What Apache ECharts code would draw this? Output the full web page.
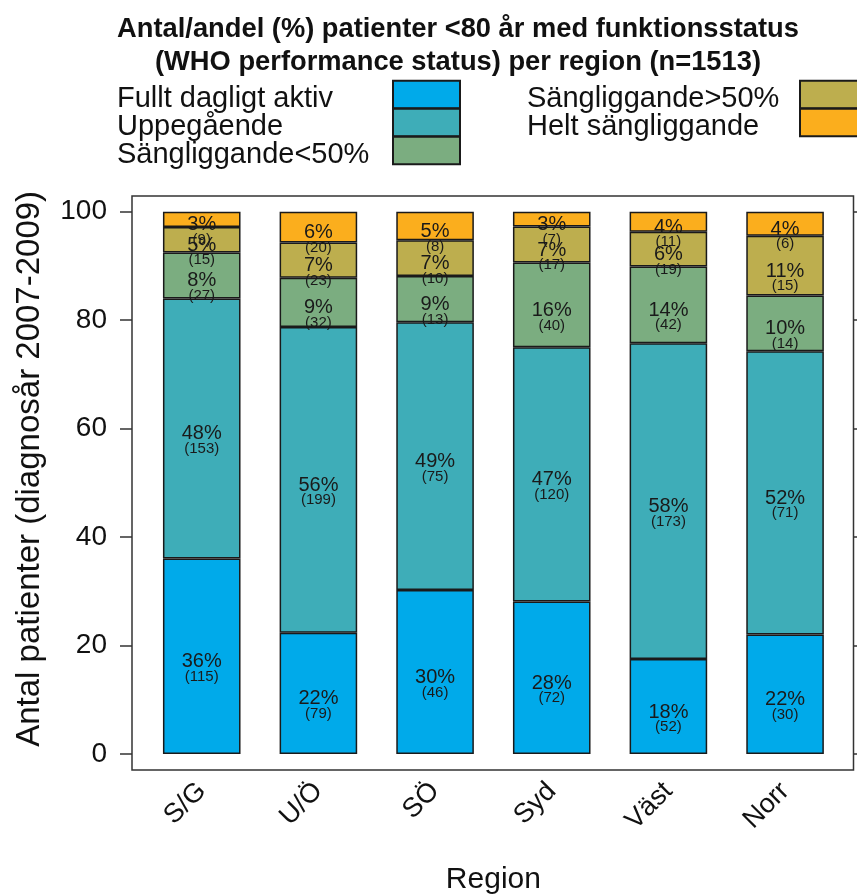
<!DOCTYPE html>
<html>
<head>
<meta charset="utf-8">
<script src="https://cdn.jsdelivr.net/npm/echarts@6/dist/echarts.min.js"></script>
<style>html,body{margin:0;padding:0;background:#fff}#c{width:857px;height:894px}</style>
</head>
<body>
<div id="c"></div>
<script>
var regions = ['S/G', 'U/Ö', 'SÖ', 'Syd', 'Väst', 'Norr'];
var statusNames = ['Fullt dagligt aktiv', 'Uppegående', 'Sängliggande<50%', 'Sängliggande>50%', 'Helt sängliggande'];
var fulltAktiv   = [115, 79, 46, 72, 52, 30];
var uppegaende   = [153, 199, 75, 120, 173, 71];
var sangUnder50  = [27, 32, 13, 40, 42, 14];
var sangOver50   = [15, 23, 10, 17, 19, 15];
var heltSang     = [9, 20, 8, 7, 11, 6];
var yTicks = [0, 20, 40, 60, 80, 100];
var colors = ['#00AAEA', '#3EADB8', '#7BAD80', '#BDAE4E', '#FBAE1D'];

var countsList = [fulltAktiv, uppegaende, sangUnder50, sangOver50, heltSang];
var totals = regions.map(function (r, i) {
  return countsList.reduce(function (s, arr) { return s + arr[i]; }, 0);
});
var FONT = 'Liberation Sans, Arial, sans-serif';

var series = countsList.map(function (arr, k) {
  return {
    name: statusNames[k],
    type: 'bar',
    stack: 'all',
    xAxisIndex: 0,
    yAxisIndex: 0,
    barWidth: '66.5%',
    itemStyle: { color: colors[k], borderColor: '#1a1a1a', borderWidth: 1.5 },
    emphasis: { disabled: true },
    label: {
      show: true,
      position: 'inside',
      offset: [0, 13],
      formatter: function (p) {
        var c = arr[p.dataIndex];
        return '{a|' + Math.round(100 * c / totals[p.dataIndex]) + '%}\n{b|(' + c + ')}';
      },
      rich: {
        a: { fontSize: 20, lineHeight: 15, color: '#1a1a1a', fontFamily: FONT },
        b: { fontSize: 15, lineHeight: 15, color: '#1a1a1a', fontFamily: FONT }
      }
    },
    data: arr.map(function (c, i) { return 100 * c / totals[i]; })
  };
});

function legendFmt(name) { return '{n|' + name + '}'; }

function legendOpt(names, left, w) {
  return {
    data: names,
    orient: 'vertical', left: left, top: 76, align: 'right',
    padding: 0,
    icon: 'rect',
    itemWidth: 67, itemHeight: 27.7, itemGap: -9,
    selectedMode: false,
    formatter: legendFmt,
    textStyle: { fontSize: 29, lineHeight: 24, color: '#111', fontFamily: FONT,
      rich: { n: { width: w, align: 'left', fontSize: 29, lineHeight: 24, color: '#111', fontFamily: FONT, padding: [8, 0, 0, 0] } } }
  };
}

var chart = echarts.init(document.getElementById('c'), null, { renderer: 'canvas' });
chart.setOption({
  animation: false,
  textStyle: { fontFamily: FONT },
  title: {
    text: 'Antal/andel (%) patienter <80 år med funktionsstatus\n(WHO performance status) per region (n=1513)',
    left: 453,
    textAlign: 'center',
    top: 8,
    textStyle: { fontSize: 27.3, fontWeight: 'bold', lineHeight: 33, color: '#111', fontFamily: FONT }
  },
  legend: [
    legendOpt(statusNames.slice(0, 3), 117, 271),
    legendOpt(statusNames.slice(3), 527, 268)
  ],
  grid: [
    { left: 143.4, right: 13.6, top: 211.7, bottom: 140, containLabel: false, outerBoundsMode: 'none' },
    { left: 132, right: 3.5, top: 196, bottom: 124, show: true, borderColor: '#333', borderWidth: 1.5,
      backgroundColor: 'transparent', z: 0, outerBoundsMode: 'none' }
  ],
  xAxis: [
    {
      type: 'category', gridIndex: 0, data: regions,
      axisLine: { show: false }, axisTick: { show: false },
      axisLabel: { rotate: 45, margin: 33, fontSize: 27, color: '#111', fontFamily: FONT },
      name: 'Region', nameLocation: 'middle', nameGap: 111,
      nameTextStyle: { fontSize: 30, color: '#111', fontFamily: FONT }
    },
    { type: 'value', gridIndex: 1, show: false, min: 0, max: 1 }
  ],
  yAxis: [
    {
      type: 'value', gridIndex: 0, min: 0, max: 100, interval: 20, offset: 11.4,
      axisLine: { show: false },
      axisTick: { show: true, length: 12, lineStyle: { color: '#333', width: 1.5 } },
      splitLine: { show: false },
      axisLabel: { margin: 25, fontSize: 28, color: '#111', fontFamily: FONT,
        formatter: function (v) { return yTicks.indexOf(v) >= 0 ? String(v) : ''; } },
      name: 'Antal patienter (diagnosår 2007-2009)', nameLocation: 'middle', nameGap: 86,
      nameTextStyle: { fontSize: 33, color: '#111', fontFamily: FONT, padding: [0, 0, 0, 28] }
    },
    {
      type: 'value', gridIndex: 0, position: 'right', min: 0, max: 100, interval: 20, offset: 10,
      axisLine: { show: false },
      axisTick: { show: true, length: 12, lineStyle: { color: '#333', width: 1.5 } },
      splitLine: { show: false },
      axisLabel: { show: false }
    },
    { type: 'value', gridIndex: 1, show: false, min: 0, max: 1 }
  ],
  series: series
});
</script>
</body>
</html>
